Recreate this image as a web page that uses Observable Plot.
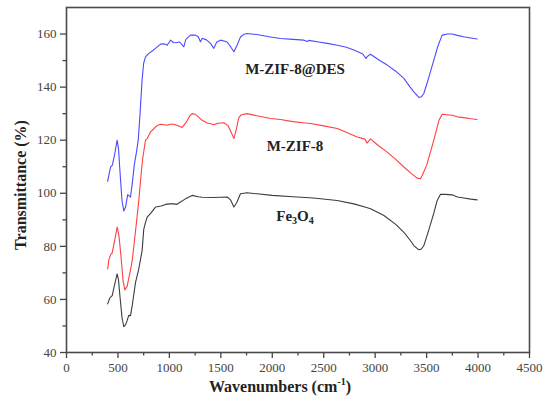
<!DOCTYPE html>
<html><head><meta charset="utf-8">
<script src="https://cdn.jsdelivr.net/npm/d3@7"></script>
<script src="https://cdn.jsdelivr.net/npm/@observablehq/plot@0.6"></script>
<style>body{margin:0;background:#fff}</style>
</head><body><div id="chart"></div>
<script>
const seriesNames = ["M-ZIF-8@DES", "M-ZIF-8", "Fe3O4"];
const seriesColors = ["#4b4bff", "#ff4040", "#3c3c3c"];

const desWn = [400,415,430,445,470,492,505,520,540,557,575,595,610,622,640,660,680,697,715,735,750,768,800,840,865,914,950,978,1000,1011,1040,1059,1100,1140,1160,1205,1254,1280,1302,1320,1360,1400,1432,1460,1497,1540,1562,1590,1627,1660,1691,1720,1756,1850,1983,2080,2200,2307,2340,2355,2450,2550,2631,2720,2793,2880,2910,2922,2955,3030,3117,3200,3279,3340,3376,3425,3450,3473,3520,3570,3610,3651,3700,3748,3800,3861,3930,3991];
const desT = [104.5,107.5,110,110.5,115,120,117,108,97,93.3,95,99.5,99,98.5,104,111,115.5,120,130,143,149,151.4,152.7,153.8,154.6,156.2,156.3,155.8,157,157.7,156.8,156.7,157,155.2,158,159.6,159.6,159,157.1,158.4,157.8,156.5,154.6,157,157.7,157.3,157,155.5,153.3,156,158.9,159.8,160.2,159.8,158.9,158.3,158,157.7,157.2,157.6,157,156.4,155.8,155,154,152.5,150.8,151.5,152.4,150.4,148.3,146,143.3,140,138.2,136.1,136.4,137.6,143.5,150.2,155.5,159.6,160,160,159.5,159,158.5,158.1];

const zifWn = [400,412,430,444,470,492,510,530,550,567,590,610,622,640,660,680,703,720,740,768,784,815,849,880,914,950,978,1010,1043,1080,1124,1160,1200,1221,1250,1290,1319,1370,1416,1432,1470,1530,1570,1600,1627,1650,1675,1700,1756,1850,1983,2080,2200,2300,2372,2500,2631,2720,2825,2900,2922,2955,3030,3117,3200,3279,3350,3408,3440,3457,3500,3570,3620,3651,3700,3748,3800,3861,3930,3991];
const zifT = [71.5,75,77,77.5,82.5,87.3,84,76,67,63.6,65,69,71,75,82,89,97.5,105,113,120,120.6,123,124.4,125.5,126,125.8,125.6,126,126,125.5,124.8,126.5,129.3,130,129.8,128.5,127.5,126.5,126,125.8,126.4,126.6,125.5,123,120.6,124,128.5,129.6,130,129.2,128.2,127.8,127,126.6,126.3,125.4,124.4,123,121.2,120.4,118.9,120.5,118,115.5,112.8,109.9,107.5,105.7,105.5,106.7,110.5,120,127.5,129.8,129.6,129.4,128.8,128.5,128.1,127.8];

const feWn = [400,420,444,470,492,505,520,540,557,575,589,605,622,640,671,700,735,751,768,784,820,865,881,920,962,1000,1043,1070,1100,1156,1221,1280,1319,1416,1500,1562,1595,1627,1655,1691,1756,1850,2000,2200,2400,2631,2793,2900,2955,3085,3200,3279,3340,3376,3425,3450,3473,3520,3570,3603,3635,3680,3748,3800,3861,3930,3991];
const feT = [58.3,60.5,61.4,66,69.6,67.5,61,53,49.7,50.5,52,54,53.9,58,66.4,71,78.4,86.5,89,91,92.5,94.8,94.9,95.2,95.8,96,96,95.8,96.5,97.9,99.2,98.7,98.5,98.4,98.5,98.6,97.5,94.8,96.5,99.8,100.2,99.8,99.2,98.7,98.2,97.3,96,94.8,94.2,91.6,88.3,85.3,82.3,80.3,78.7,79,80.3,86,92.5,97.3,99.6,99.6,99.4,98.6,98.2,97.8,97.5];

const xTicks = [0,500,1000,1500,2000,2500,3000,3500,4000,4500];
const xMinor = [250,750,1250,1750,2250,2750,3250,3750,4250];
const yTicks = [40,60,80,100,120,140,160];
const yMinor = [50,70,90,110,130,150];

// label anchor (wavenumber, transmittance) for each series name
const labelWn = [2226, 2226, 2226];
const labelT = [146.1, 117.1, 90.5];

const rows = [];
[[desWn, desT], [zifWn, zifT], [feWn, feT]].forEach(([w, t], i) => {
  w.forEach((v, j) => rows.push({series: seriesNames[i], wn: v, t: t[j]}));
});

const serif = "'Liberation Serif', 'Times New Roman', Times, serif";

const chart = Plot.plot({
  width: 550, height: 409,
  marginLeft: 66, marginRight: 21, marginTop: 7, marginBottom: 57,
  x: {domain: [0, 4500]},
  y: {domain: [40, 170]},
  color: {domain: seriesNames, range: seriesColors},
  style: {fontFamily: serif, fontSize: "13px", color: "#444", background: "#fff"},
  marks: [
    Plot.line(rows, {x: "wn", y: "t", z: "series", stroke: "series", strokeWidth: 1.1}),
    Plot.axisX({ticks: xTicks, tickFormat: d3.format("d"), tickSize: 6, tickPadding: 4, label: null, fontSize: 13, strokeWidth: 1.3}),
    Plot.axisX({ticks: xMinor, tickSize: 3.5, text: null, label: null, strokeWidth: 1.3}),
    Plot.axisY({ticks: yTicks, tickFormat: d3.format("d"), tickSize: 6, tickPadding: 4, label: null, fontSize: 13, strokeWidth: 1.3}),
    Plot.axisY({ticks: yMinor, tickSize: 3.5, text: null, label: null, strokeWidth: 1.3}),
    Plot.frame({stroke: "#4a4a4a", strokeWidth: 1.6})
  ]
});

const svg = d3.select(chart);
const sx = chart.scale("x"), sy = chart.scale("y");
const g = svg.append("g").attr("font-family", serif).attr("font-weight", "bold").attr("fill", "#222");

// series labels
seriesNames.forEach((name, i) => {
  const t = g.append("text")
    .attr("x", sx.apply(labelWn[i])).attr("y", sy.apply(labelT[i]))
    .attr("text-anchor", "middle").attr("dominant-baseline", "middle")
    .attr("font-size", 15);
  if (name === "Fe3O4") {
    t.append("tspan").text("Fe");
    t.append("tspan").text("3").attr("font-size", 10).attr("dy", 4);
    t.append("tspan").text("O").attr("dy", -4);
    t.append("tspan").text("4").attr("font-size", 10).attr("dy", 4);
  } else {
    t.text(name);
  }
});

// axis titles
const xt = g.append("text").attr("x", 280).attr("y", 392).attr("text-anchor", "middle").attr("font-size", 16);
xt.append("tspan").text("Wavenumbers (cm");
xt.append("tspan").text("-1").attr("font-size", 10).attr("dy", -7);
xt.append("tspan").text(")").attr("dy", 7);

g.append("text").attr("transform", "translate(22,185) rotate(-90)")
  .attr("text-anchor", "middle").attr("dominant-baseline", "middle")
  .attr("font-size", 16).text("Transmittance (%)");

document.getElementById("chart").appendChild(chart);
</script>
</body></html>
